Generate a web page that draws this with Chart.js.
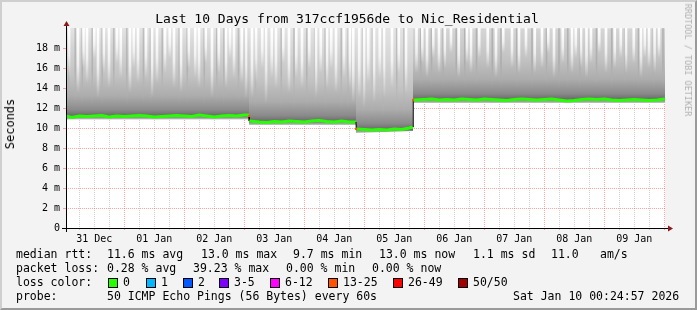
<!DOCTYPE html>
<html>
<head>
<meta charset="utf-8">
<script src="https://cdn.jsdelivr.net/npm/chart.js@4.4.1/dist/chart.umd.min.js"></script>
<style>
  body { margin: 0; background: #f3f3f3; }
  #frame { position: relative; width: 697px; height: 310px; background: #f3f3f3; overflow: hidden;
           font-family: "DejaVu Sans Mono", monospace; color: #000; }
  #chart { position: absolute; left: 0; top: 0; }
  .t { position: absolute; white-space: pre; font-size: 11.5px; line-height: 14px; }
  .box { position: absolute; width: 8px; height: 8px; border: 1px solid #000; }
  #edge { position: absolute; left: 0; top: 0; width: 697px; height: 310px; box-sizing: border-box;
          border-top: 2px solid #cfcfcf; border-left: 2px solid #cfcfcf;
          border-right: 2px solid #9a9a9a; border-bottom: 2px solid #9a9a9a; pointer-events: none; }
</style>
</head>
<body>
<div id="frame">
  <canvas id="chart" width="697" height="310"></canvas>
  <div class="t" style="left:147px;width:400px;top:11px;text-align:center;font-size:13px;line-height:16px;">Last 10 Days from 317ccf1956de to Nic_Residential</div>
  <div class="t" style="left:10px;top:124px;font-size:12px;transform:translate(-50%,-50%) rotate(-90deg);">Seconds</div>
  <div class="t" style="left:688px;top:60px;font-size:8.5px;color:#b0b0b0;transform:translate(-50%,-50%) rotate(90deg);">RRDTOOL / TOBI OETIKER</div>

  <div class="t" style="left:16px;top:247px;">median rtt:</div>
  <div class="t" style="left:107px;top:247px;">11.6 ms avg</div>
  <div class="t" style="left:201px;top:247px;">13.0 ms max</div>
  <div class="t" style="left:293px;top:247px;">9.7 ms min</div>
  <div class="t" style="left:379px;top:247px;">13.0 ms now</div>
  <div class="t" style="left:473px;top:247px;">1.1 ms sd</div>
  <div class="t" style="left:551px;top:247px;">11.0</div>
  <div class="t" style="left:600px;top:247px;">am/s</div>

  <div class="t" style="left:16px;top:261px;">packet loss:</div>
  <div class="t" style="left:107px;top:261px;">0.28 % avg</div>
  <div class="t" style="left:193px;top:261px;">39.23 % max</div>
  <div class="t" style="left:286px;top:261px;">0.00 % min</div>
  <div class="t" style="left:372px;top:261px;">0.00 % now</div>

  <div class="t" style="left:16px;top:275px;">loss color:</div>
  <div id="lossRow"></div>

  <div class="t" style="left:16px;top:289px;">probe:</div>
  <div class="t" style="left:107px;top:289px;">50 ICMP Echo Pings (56 Bytes) every 60s</div>
  <div class="t" style="left:513px;top:289px;">Sat Jan 10 00:24:57 2026</div>
  <div id="edge"></div>
</div>
<script>
// hours counted from 31 Dec 00:00
const dayLabels = ['31 Dec', '01 Jan', '02 Jan', '03 Jan', '04 Jan', '05 Jan', '06 Jan', '07 Jan', '08 Jan', '09 Jan'];

// median rtt (ms)
const hours = [0.7, 3, 6, 9, 12, 15, 18, 21, 24, 27, 30, 33, 36, 39, 42, 45, 48, 51, 54, 57, 60, 63, 66, 69, 72, 73.9,
  74.0, 78, 81, 84, 87, 90, 93, 96, 99, 102, 105, 108, 111, 114, 116.7,
  116.8, 120, 123, 126, 129, 132, 135, 138, 139.5,
  139.6, 144, 147, 150, 153, 156, 159, 162, 165, 168, 171, 174, 177, 180, 183, 186, 189, 192, 195, 198,
  201, 204, 207, 210, 213, 216, 219, 222, 225, 228, 231, 234, 237, 240.3];
const medianMs = [11.2, 11.05, 11.2, 11.15, 11.2, 11.25, 11.1, 11.2, 11.15, 11.2, 11.25, 11.2, 11.1, 11.15, 11.2, 11.25, 11.2, 11.15, 11.3, 11.2, 11.1, 11.2, 11.25, 11.2, 11.3, 11.3,
  10.7, 10.6, 10.55, 10.65, 10.6, 10.7, 10.65, 10.6, 10.7, 10.75, 10.65, 10.6, 10.7, 10.6, 10.6,
  9.9, 9.85, 9.8, 9.85, 9.8, 9.9, 9.85, 10.0, 10.1,
  12.8, 12.85, 12.9, 12.8, 12.85, 12.8, 12.9, 12.85, 12.8, 12.9, 12.85, 12.8, 12.75, 12.85, 12.9, 12.85, 12.8, 12.85, 12.9, 12.8,
  12.7, 12.75, 12.85, 12.9, 12.85, 12.9, 12.8, 12.75, 12.8, 12.85, 12.8, 12.75, 12.8, 12.9];

// smoke: lowest ping, median level and top (clipped) per level period
const smokeHours = [0.7, 73.9, 73.9, 116.7, 116.7, 139.5, 139.5, 240.3];
const smokeLow = [10.85, 10.85, 10.3, 10.3, 9.5, 9.7, 12.5, 12.5];
const smokeP50 = [11.2, 11.2, 10.65, 10.65, 9.85, 10.0, 12.85, 12.85];
const smokeMax = [21, 21, 21, 21, 21, 21, 21, 21];

// samples where all pings stayed low (light streaks), and where they were spread high (dark streaks)
const lightHours = [2.3, 5.9, 8.1, 9.5, 12.4, 13.9, 16.2, 18.3, 21.5, 23.0, 26.7, 28.2, 29.9, 33.1, 35.5, 37.5,
  40.7, 42.6, 44.3, 47.1, 50.2, 52.8, 54.3, 57.0, 59.5, 62.2, 65.1, 66.7, 68.3, 71.4, 73.1,
  75.5, 77.1, 79.6, 81.1, 83.4, 85.1, 88.0, 90.3, 93.2, 95.5, 98.4, 101.1, 103.0, 105.5, 107.2, 109.1, 112.3, 114.6, 116.0,
  118.4, 120.3, 122.0, 124.3, 126.6, 128.3, 131.5, 134.2, 137.1,
  141.3, 143.6, 145.5, 148.0, 150.3, 152.6, 155.1, 158.2, 161.5, 163.1, 166.4, 169.8, 173.1, 176.0, 179.5, 182.3,
  185.1, 188.6, 191.5, 194.0, 196.3, 199.8, 203.5, 205.0, 207.1, 209.3, 211.1, 214.4, 217.1, 220.6, 223.0, 225.1,
  228.2, 231.1, 232.6, 234.3, 236.5, 238.3];
const lightFloor = [15, 13.5, 16, 14.5, 17, 13, 15.5, 14, 16.5, 15, 13.5, 16, 14.5, 15, 13, 14.5,
  15.5, 17, 14, 13.5, 16, 15, 14, 16.5, 13, 15.5, 14, 17, 15, 14.5, 13,
  13, 14.5, 16, 12.5, 15, 14, 16.5, 13.5, 15, 14, 16, 13, 15.5, 14, 16, 13.5, 15, 14, 12.5,
  13, 12, 14.5, 12.5, 15, 13, 14, 15.5, 13.5,
  15.5, 16.5, 15, 17, 15.5, 16, 17.5, 15, 16.5, 15.5, 17, 16, 15, 17.5, 16, 15.5,
  17, 15.5, 16, 17.5, 15, 16.5, 15.5, 17, 16, 15, 16.5, 17.5, 15.5, 16, 17, 15.5,
  16.5, 15, 17, 16, 15.5, 17];
const darkHours = [1.5, 4.2, 7.0, 11.0, 15.0, 19.6, 24.8, 31.5, 34.3, 39.0, 45.8, 49.0, 55.8, 60.8, 63.7, 69.5, 72.2,
  76.3, 80.3, 86.6, 91.7, 96.8, 100.0, 104.2, 110.6, 113.4,
  119.2, 123.1, 127.4, 132.8, 135.7,
  142.4, 146.7, 151.4, 156.6, 160.0, 164.7, 171.0, 174.5, 180.8, 186.9, 192.7, 197.7, 201.2, 206.0, 212.7,
  218.8, 224.0, 229.5, 235.5, 239.3];
const darkFloor = [12.2, 12.4, 12.1, 12.3, 12.2, 12.5, 12.2, 12.3, 12.1, 12.4, 12.2, 12.3, 12.2, 12.4, 12.1, 12.3, 12.2,
  11.6, 11.8, 11.6, 11.7, 11.6, 11.8, 11.6, 11.7, 11.6,
  10.9, 11.0, 10.9, 11.1, 11.0,
  13.9, 14.0, 13.8, 14.0, 13.9, 14.1, 13.9, 13.8, 14.0, 13.9, 14.1, 13.9, 14.0, 13.8, 14.0,
  13.9, 14.1, 13.9, 14.0, 13.9];

// packet loss events
const lossHours = [73.9, 116.75, 139.55];
const lossMs = [11.2, 9.9, 12.8];
const lossPct = [30, 28, 39.23];

const lossBins = ['0', '1', '2', '3-5', '6-12', '13-25', '26-49', '50/50'];
const lossColors = ['#26ff00', '#00b8ff', '#0059ff', '#7e00ff', '#ff00ff', '#ff5500', '#ff0000', '#a10000'];
const lossUpper = [0, 2, 4, 10, 24, 50, 98, 100];

function lossColor(p) {
  for (let i = 0; i < lossUpper.length; i++) {
    if (p <= lossUpper[i]) return lossColors[i];
  }
  return lossColors[lossColors.length - 1];
}

// legend boxes for loss colors
const boxX = [108, 146, 183, 219, 270, 328, 393, 458];
const row = document.getElementById('lossRow');
lossBins.forEach((label, i) => {
  const b = document.createElement('div');
  b.className = 'box';
  b.style.left = boxX[i] + 'px';
  b.style.top = '278px';
  b.style.background = lossColors[i];
  row.appendChild(b);
  const t = document.createElement('div');
  t.className = 't';
  t.style.left = (boxX[i] + 15) + 'px';
  t.style.top = '275px';
  t.innerText = label;
  row.appendChild(t);
});

function pts(xs, ys) {
  return xs.map((x, i) => ({ x: x, y: ys[i] }));
}

// vertical grey gradient of the smoke, darkest right above the median
function smokeFill(chart, i) {
  const y = chart.scales.y;
  const low = smokeLow[i], mid = smokeP50[i];
  const bot = y.getPixelForValue(low), top = y.getPixelForValue(20);
  const g = chart.ctx.createLinearGradient(0, bot, 0, top);
  const f = (v) => Math.min(1, Math.max(0, (y.getPixelForValue(v) - bot) / (top - bot)));
  g.addColorStop(0, '#c8c8c8');
  g.addColorStop(f(mid), '#6a6a6a');
  g.addColorStop(f(mid + 0.6), '#8a8a8a');
  g.addColorStop(f(mid + 2), '#acacac');
  g.addColorStop(f(mid + 4), '#c2c2c2');
  g.addColorStop(f(mid + 7), '#d5d5d5');
  g.addColorStop(1, '#e4e4e4');
  return g;
}

function streak(xs, floors, thick, topColor, midColor, order) {
  return {
    type: 'bar',
    data: xs.map((h, i) => ({ x: h, y: [floors[i], 20] })),
    barThickness: thick,
    order: order,
    backgroundColor: (c) => {
      const chart = c.chart;
      if (!chart.chartArea || !c.raw) return topColor;
      const y = chart.scales.y;
      const g = chart.ctx.createLinearGradient(0, y.getPixelForValue(20), 0, y.getPixelForValue(c.raw.y[0]));
      g.addColorStop(0, topColor);
      g.addColorStop(0.55, midColor);
      g.addColorStop(1, 'rgba(255,255,255,0)');
      return g;
    }
  };
}

const datasets = [
  { type: 'line', data: pts(smokeHours, smokeLow), borderWidth: 0, pointRadius: 0, fill: false, order: 10 },
  {
    type: 'line',
    data: pts(smokeHours, smokeMax),
    borderWidth: 0,
    pointRadius: 0,
    fill: '-1',
    backgroundColor: '#cccccc',
    order: 10,
    segment: {
      backgroundColor: (c) => c.chart.chartArea ? smokeFill(c.chart, c.p0DataIndex) : undefined
    }
  },
  streak(darkHours, darkFloor, 1, 'rgba(60,60,60,0.22)', 'rgba(60,60,60,0.15)', 6),
  streak(lightHours, lightFloor, 2, 'rgba(255,255,255,1)', 'rgba(255,255,255,0.7)', 5),
  {
    type: 'line',
    data: pts(hours, medianMs),
    borderColor: '#26ff00',
    borderWidth: 3,
    pointRadius: 0,
    fill: false,
    tension: 0,
    order: 1,
    segment: {
      borderColor: (c) => Math.abs(c.p1.parsed.y - c.p0.parsed.y) > 0.4 ? '#000' : undefined,
      borderWidth: (c) => Math.abs(c.p1.parsed.y - c.p0.parsed.y) > 0.4 ? 1 : undefined
    }
  },
  {
    type: 'line',
    data: pts(lossHours, lossMs),
    showLine: false,
    pointStyle: 'rect',
    pointRadius: 1.5,
    pointBorderWidth: 0,
    pointBackgroundColor: lossPct.map(lossColor),
    order: 0
  }
];

const frame = {
  id: 'frame',
  beforeDraw(chart) {
    const a = chart.chartArea;
    const ctx = chart.ctx;
    ctx.save();
    ctx.fillStyle = '#ffffff';
    ctx.fillRect(a.left, a.top, a.right - a.left, a.bottom - a.top);
    ctx.restore();
  },
  afterDraw(chart) {
    const a = chart.chartArea;
    const ctx = chart.ctx;
    ctx.save();
    ctx.strokeStyle = '#000';
    ctx.lineWidth = 1;
    ctx.beginPath();
    ctx.moveTo(a.left - 4, a.bottom + 0.5);
    ctx.lineTo(a.right + 3, a.bottom + 0.5);
    ctx.moveTo(a.left + 0.5, a.bottom + 4);
    ctx.lineTo(a.left + 0.5, a.top - 2);
    ctx.stroke();
    ctx.fillStyle = '#8b1a1a';
    ctx.beginPath();
    ctx.moveTo(a.right + 3, a.bottom - 2.5);
    ctx.lineTo(a.right + 3, a.bottom + 3.5);
    ctx.lineTo(a.right + 8, a.bottom + 0.5);
    ctx.closePath();
    ctx.fill();
    ctx.beginPath();
    ctx.moveTo(a.left - 2.5, a.top - 2);
    ctx.lineTo(a.left + 3.5, a.top - 2);
    ctx.lineTo(a.left + 0.5, a.top - 7);
    ctx.closePath();
    ctx.fill();
    ctx.restore();
  }
};

const red = 'rgba(255, 60, 60, 0.45)';
const grey = 'rgba(150, 150, 150, 0.45)';

new Chart(document.getElementById('chart'), {
  type: 'line',
  data: { datasets: datasets },
  plugins: [frame],
  options: {
    responsive: false,
    animation: false,
    layout: { padding: { left: 0, top: 28, right: 32, bottom: 0 } },
    plugins: { legend: { display: false }, tooltip: { enabled: false } },
    scales: {
      x: {
        type: 'linear',
        min: 0.7,
        max: 240.3,
        offset: false,
        z: 1,
        afterFit: (s) => { s.height = 82; },
        afterBuildTicks: (s) => {
          const t = [];
          for (let h = 6; h <= 240; h += 6) t.push({ value: h });
          s.ticks = t;
        },
        grid: {
          offset: false,
          color: (c) => (c.tick && c.tick.value % 24 === 0) ? red : grey,
          tickLength: 2,
          lineWidth: 1
        },
        border: { display: false, dash: [1, 1] },
        ticks: {
          autoSkip: false,
          maxRotation: 0,
          padding: 3,
          color: '#000',
          font: { family: 'DejaVu Sans Mono', size: 10 },
          callback: (v) => ((v - 12) % 24 === 0) ? dayLabels[(v - 12) / 24] : ''
        }
      },
      y: {
        min: 0,
        max: 20,
        z: 1,
        afterFit: (s) => { s.width = 66; },
        afterBuildTicks: (s) => {
          const t = [];
          for (let v = 0; v < 20; v++) t.push({ value: v });
          s.ticks = t;
        },
        grid: {
          color: (c) => (c.tick && c.tick.value % 2 === 0) ? red : grey,
          tickLength: 3,
          lineWidth: 1
        },
        border: { display: false, dash: [1, 1] },
        ticks: {
          padding: 3,
          color: '#000',
          font: { family: 'DejaVu Sans Mono', size: 10 },
          callback: (v) => v % 2 === 0 ? (v === 0 ? '0' : v + ' m') : ''
        }
      }
    }
  }
});
</script>
</body>
</html>
